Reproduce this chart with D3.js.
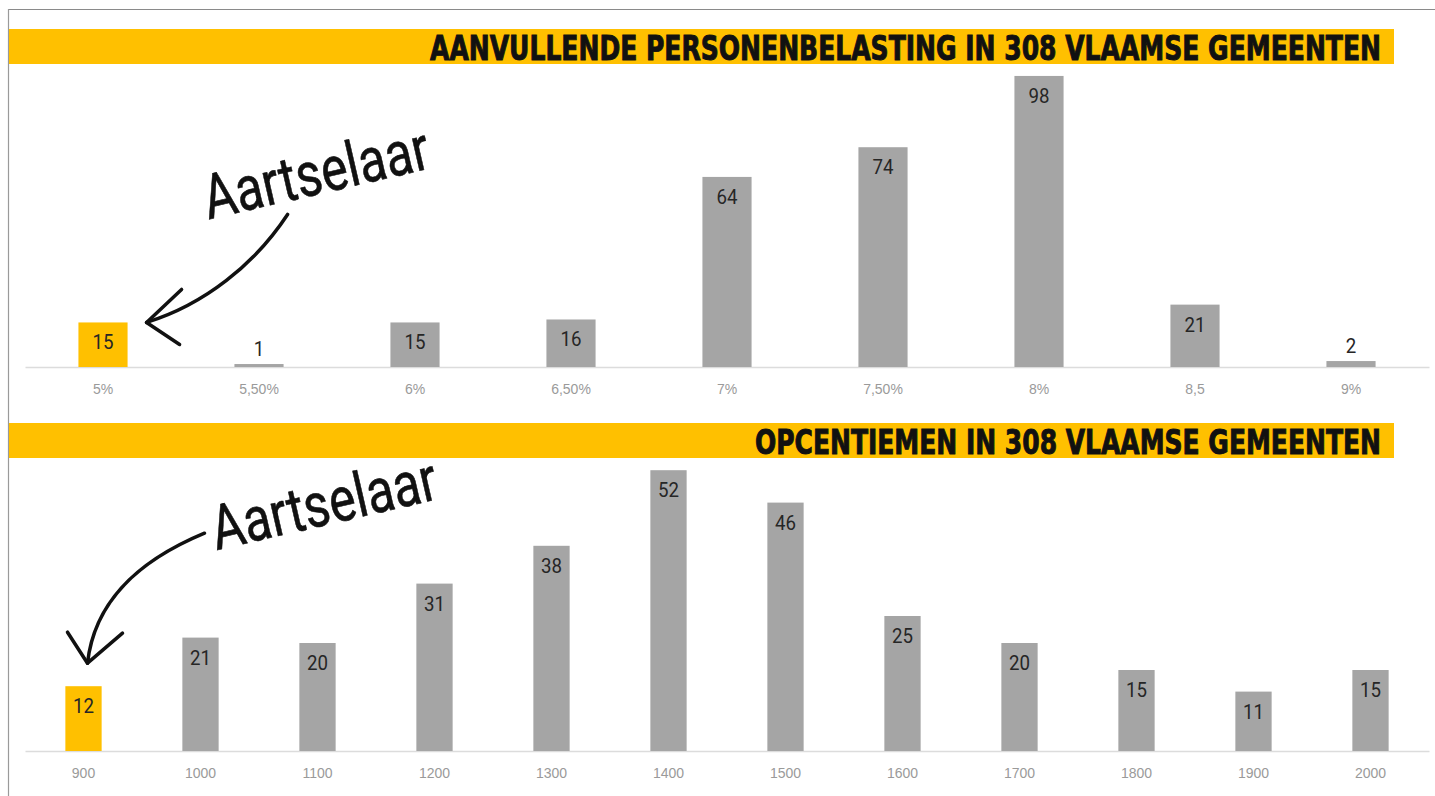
<!DOCTYPE html>
<html>
<head>
<meta charset="utf-8">
<script src="https://cdn.jsdelivr.net/npm/d3@7"></script>
<style>
  html, body { margin: 0; padding: 0; background: #fff; }
  svg { display: block; }
</style>
</head>
<body>
<div id="chart"></div>
<script>
// Chart 1: aanvullende personenbelasting
const rateLabels = ['5%', '5,50%', '6%', '6,50%', '7%', '7,50%', '8%', '8,5', '9%'];
const rateCounts = [15, 1, 15, 16, 64, 74, 98, 21, 2];
const rateHighlight = '5%';

// Chart 2: opcentiemen
const opcLabels = ['900', '1000', '1100', '1200', '1300', '1400', '1500', '1600', '1700', '1800', '1900', '2000'];
const opcCounts = [12, 21, 20, 31, 38, 52, 46, 25, 20, 15, 11, 15];
const opcHighlight = '900';

const titles = [
  'AANVULLENDE PERSONENBELASTING IN 308 VLAAMSE GEMEENTEN',
  'OPCENTIEMEN IN 308 VLAAMSE GEMEENTEN'
];
const annotation = 'Aartselaar';

const W = 1435, H = 796;
const YELLOW = '#FFC000', GREY = '#A5A5A5';
const condensed = '"DejaVu Sans Condensed", "Liberation Sans Narrow", sans-serif';

const svg = d3.select('#chart').append('svg')
  .attr('width', W).attr('height', H);

// outer frame
svg.append('line').attr('x1', 8).attr('x2', W).attr('y1', 9.5).attr('y2', 9.5)
  .attr('stroke', '#8a8a8a').attr('stroke-width', 1.2);
svg.append('line').attr('x1', 8.5).attr('x2', 8.5).attr('y1', 9).attr('y2', H)
  .attr('stroke', '#9a9a9a').attr('stroke-width', 1.2);

function drawPanel(cfg) {
  const g = svg.append('g');

  // yellow title band
  g.append('rect')
    .attr('x', 9).attr('y', cfg.bandY).attr('width', 1385).attr('height', 35)
    .attr('fill', YELLOW);
  g.append('text')
    .attr('x', 1381).attr('y', cfg.bandY + 31)
    .attr('text-anchor', 'end')
    .attr('font-family', condensed).attr('font-weight', 'bold')
    .attr('font-size', 33).attr('fill', '#111')
    .attr('stroke', '#111').attr('stroke-width', 0.9)
    .attr('textLength', cfg.titleLen).attr('lengthAdjust', 'spacingAndGlyphs')
    .text(cfg.title);

  const x = d3.scaleBand()
    .domain(cfg.labels)
    .range([25, 1429])
    .paddingInner(cfg.pad).paddingOuter(cfg.pad / 2);
  const y = d3.scaleLinear()
    .domain([0, cfg.yMax])
    .range([cfg.base, cfg.top]);

  const data = cfg.labels.map((l, i) => ({ label: l, value: cfg.values[i] }));

  // baseline axis
  const axis = d3.axisBottom(x).tickSize(0).tickPadding(17);
  const ax = g.append('g')
    .attr('transform', `translate(0,${cfg.base})`)
    .call(axis);
  ax.select('.domain').attr('stroke', '#dcdcdc').attr('stroke-width', 1.5);
  ax.selectAll('text')
    .attr('font-family', '"Liberation Sans", Arial, sans-serif')
    .attr('font-size', 14).attr('fill', '#9a9a9a');

  g.selectAll('rect.bar')
    .data(data)
    .join('rect')
      .attr('class', 'bar')
      .attr('x', d => x(d.label))
      .attr('y', d => y(d.value))
      .attr('width', x.bandwidth())
      .attr('height', d => cfg.base - y(d.value))
      .attr('fill', d => d.label === cfg.highlight ? YELLOW : GREY);

  // value labels: inside the bar top, or above it when the bar is too thin
  g.selectAll('text.val')
    .data(data)
    .join('text')
      .attr('class', 'val')
      .attr('x', d => x(d.label) + x.bandwidth() / 2)
      .attr('y', d => (cfg.base - y(d.value)) < 30 ? y(d.value) - 8 : y(d.value) + 27)
      .attr('text-anchor', 'middle')
      .attr('font-family', 'Roboto, "Liberation Sans", sans-serif')
      .attr('font-size', 20).attr('fill', '#262626')
      .attr('textLength', d => String(d.value).length * 10.5)
      .attr('lengthAdjust', 'spacingAndGlyphs')
      .text(d => d.value);

  return { x, y, g };
}

const p1 = drawPanel({
  title: titles[0], titleLen: 951, bandY: 29,
  labels: rateLabels, values: rateCounts, highlight: rateHighlight,
  pad: 0.685, yMax: 100, base: 367, top: 70
});
const p2 = drawPanel({
  title: titles[1], titleLen: 626, bandY: 423,
  labels: opcLabels, values: opcCounts, highlight: opcHighlight,
  pad: 0.69, yMax: 55, base: 751, top: 454
});

// hand-drawn style annotations, anchored to the highlighted bars
function arrow(tip, d, head) {
  const g = svg.append('g')
    .attr('fill', 'none').attr('stroke', '#111')
    .attr('stroke-width', 3.5).attr('stroke-linecap', 'round').attr('stroke-linejoin', 'round');
  const p = d3.path();
  p.moveTo(tip[0] + d[0][0], tip[1] + d[0][1]);
  p.bezierCurveTo(tip[0] + d[1][0], tip[1] + d[1][1], tip[0] + d[2][0], tip[1] + d[2][1], tip[0], tip[1]);
  g.append('path').attr('d', p.toString());
  const h = d3.path();
  h.moveTo(tip[0] + head[0][0], tip[1] + head[0][1]);
  h.lineTo(tip[0], tip[1]);
  h.lineTo(tip[0] + head[1][0], tip[1] + head[1][1]);
  g.append('path').attr('d', h.toString());
}

function label(x0, y0) {
  svg.append('text')
    .attr('transform', `translate(${x0},${y0}) rotate(-13)`)
    .attr('font-family', 'Roboto, "Liberation Sans", sans-serif')
    .attr('font-size', 62).attr('fill', '#111')
    .attr('stroke', '#111').attr('stroke-width', 0.6)
    .attr('textLength', 230).attr('lengthAdjust', 'spacingAndGlyphs')
    .text(annotation);
}

// chart 1 arrow: tip just right of the yellow bar top
const tip1 = [p1.x(rateHighlight) + p1.x.bandwidth() + 19, p1.y(rateCounts[0])];
arrow(tip1, [[141, -108], [108, -58], [58, -18]], [[35, -33], [33, 22]]);
label(tip1[0] + 62, tip1[1] - 103);

// chart 2 arrow: tip above the yellow bar
const tip2 = [p2.x(opcHighlight) + p2.x.bandwidth() / 2 + 4, p2.y(opcCounts[0]) - 23];
arrow(tip2, [[117, -130], [52, -103], [7, -63]], [[-20, -31], [35, -30]]);
label(tip2[0] + 129, tip2[1] - 113);
</script>
</body>
</html>
